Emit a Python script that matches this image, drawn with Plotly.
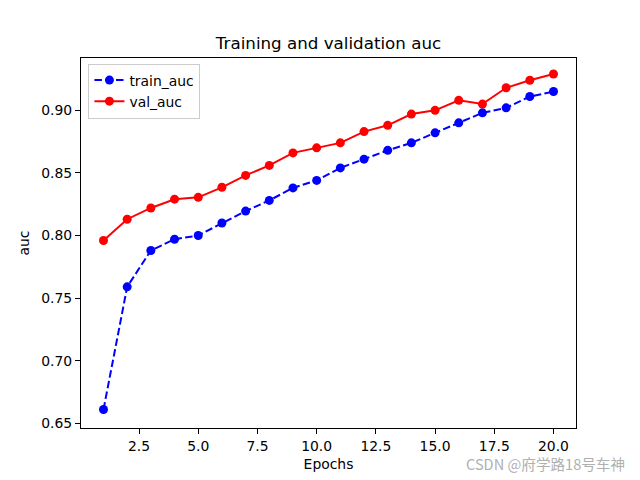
import plotly.graph_objects as go

epochs = list(range(1, 21))
train_auc = [0.661, 0.759, 0.788, 0.797, 0.800, 0.810, 0.8195, 0.828, 0.838, 0.844,
             0.854, 0.861, 0.868, 0.874, 0.882, 0.890, 0.898, 0.902, 0.911, 0.915]
val_auc = [0.796, 0.813, 0.822, 0.829, 0.8305, 0.8385, 0.848, 0.856, 0.866, 0.870,
           0.874, 0.883, 0.888, 0.897, 0.900, 0.908, 0.905, 0.918, 0.924, 0.929]
x_ticks = [2.5, 5.0, 7.5, 10.0, 12.5, 15.0, 17.5, 20.0]
y_ticks = [0.65, 0.70, 0.75, 0.80, 0.85, 0.90]

FONT = "DejaVu Sans"

fig = go.Figure()
fig.add_trace(go.Scatter(
    x=epochs, y=train_auc, name="train_auc", mode="lines+markers",
    line=dict(color="blue", width=2, dash="7.5px,3.3px"),
    marker=dict(color="blue", size=9),
))
fig.add_trace(go.Scatter(
    x=epochs, y=val_auc, name="val_auc", mode="lines+markers",
    line=dict(color="red", width=2),
    marker=dict(color="red", size=9),
))

axis_common = dict(
    showline=True, linecolor="black", linewidth=1, mirror=True,
    ticks="outside", ticklen=5, tickwidth=1, tickcolor="black",
    showgrid=False, zeroline=False, automargin=False,
    tickfont=dict(family=FONT, size=13.9, color="black"),
)

fig.update_layout(
    width=640, height=480,
    margin=dict(l=81, r=64, t=58, b=52),
    paper_bgcolor="white", plot_bgcolor="white",
    font=dict(family=FONT, size=13.9, color="black"),
    title=dict(text="Training and validation auc", x=(81 + 576) / 2 / 640, xanchor="center",
               y=1 - 43 / 480, yanchor="middle",
               font=dict(family=FONT, size=16.7, color="black")),
    xaxis=dict(range=[0.05, 20.95], tickvals=x_ticks, ticktext=[f"{v:.1f}" for v in x_ticks],
               title=dict(text="Epochs", font=dict(family=FONT, size=13.9), standoff=6),
               **axis_common),
    yaxis=dict(range=[0.6462, 0.9418], tickvals=y_ticks, ticktext=[f"{v:.2f}" for v in y_ticks],
               title=dict(text="auc", font=dict(family=FONT, size=13.9), standoff=8),
               **axis_common),
    legend=dict(x=0.015, y=0.985, xanchor="left", yanchor="top",
                bgcolor="rgba(255,255,255,0.8)", bordercolor="#cccccc", borderwidth=1,
                font=dict(family=FONT, size=13.9), tracegroupgap=0, itemwidth=30),
    showlegend=True,
)

fig.add_annotation(
    text="CSDN @府学路18号车神", xref="paper", yref="paper",
    x=(627 - 81) / (576 - 81), y=-(464 - 428) / (428 - 58),
    xanchor="right", yanchor="middle", showarrow=False,
    font=dict(family="Noto Sans CJK SC", size=14.6, color="#b0b0b0"),
)

fig.write_html("out.html", config={"displayModeBar": False},
               post_script="document.body.style.margin='0';")
